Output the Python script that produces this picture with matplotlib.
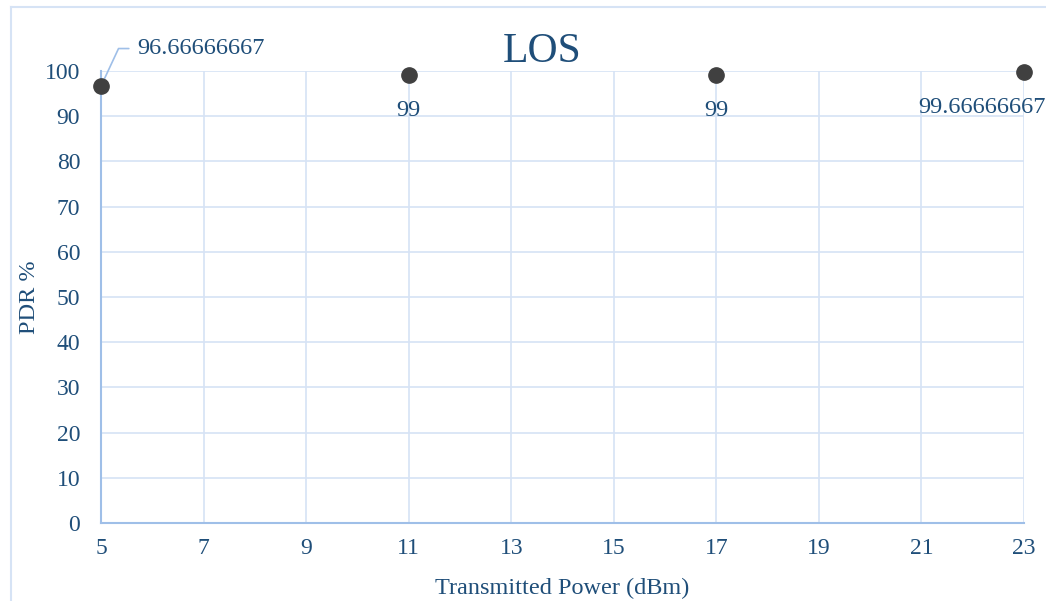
import matplotlib.pyplot as plt
from matplotlib.lines import Line2D

power_dbm = [5, 11, 17, 23]
pdr = [96.66666667, 99, 99, 99.66666667]
pdr_labels = ['96.66666667', '99', '99', '99.66666667']

plt.rcParams['font.family'] = ['Liberation Serif', 'DejaVu Serif']
text_color = '#1f4e79'
grid_color = '#d6e3f5'
axis_color = '#9fbfe8'
fs = 17.5

fig = plt.figure(figsize=(10.46, 6.01), dpi=100)
ax = fig.add_axes([0.0966, 0.1298, 0.8824, 0.7521])

# chart-area frame
fig.add_artist(Line2D([11 / 1046, 11 / 1046], [0, 1 - 7 / 601], color=grid_color, lw=1.5))
fig.add_artist(Line2D([11 / 1046, 1], [1 - 7 / 601, 1 - 7 / 601], color=grid_color, lw=1.5))

ax.plot(power_dbm, pdr, 'o', color='#404040', markersize=11, zorder=5, clip_on=False)

ax.set_xlim(5, 23)
ax.set_ylim(0, 100)
ax.set_xticks(range(5, 24, 2))
ax.set_yticks(range(0, 101, 10))
ax.grid(True, color=grid_color, lw=1.2)
ax.set_axisbelow(True)
for side in ['top', 'right']:
    ax.spines[side].set_visible(False)
for side in ['left', 'bottom']:
    ax.spines[side].set_color(axis_color)
    ax.spines[side].set_linewidth(1.5)
ax.tick_params(length=0, labelsize=17, labelcolor=text_color)
ax.tick_params(axis='x', pad=11)
ax.tick_params(axis='y', pad=15)

ax.set_title('LOS', fontsize=30, color=text_color, x=0.478, pad=2)
ax.set_xlabel('Transmitted Power (dBm)', fontsize=fs, color=text_color, va='center')
ax.set_ylabel('PDR %', fontsize=fs, color=text_color, va='center')
ax.xaxis.set_label_coords(0.5, -0.1438)
ax.yaxis.set_label_coords(-0.077, 0.5)

# first label with a leader line, the rest below the points
ax.annotate(pdr_labels[0], xy=(power_dbm[0], pdr[0]), xytext=(26, 27),
            textcoords='offset points', fontsize=fs, color=text_color,
            va='center', ha='left',
            arrowprops=dict(arrowstyle='-', color=axis_color, lw=1.2,
                            connectionstyle='angle,angleA=0,angleB=65,rad=0',
                            shrinkA=4, shrinkB=0))
for x, y, lab in zip(power_dbm[1:-1], pdr[1:-1], pdr_labels[1:-1]):
    ax.annotate(lab, xy=(x, y), xytext=(0, -25), textcoords='offset points',
                fontsize=fs, color=text_color, ha='center', va='center')
ax.annotate(pdr_labels[-1], xy=(power_dbm[-1], pdr[-1]), xytext=(-30, -25),
            textcoords='offset points', fontsize=fs, color=text_color,
            ha='center', va='center')

fig.savefig('out.png', dpi=100)
